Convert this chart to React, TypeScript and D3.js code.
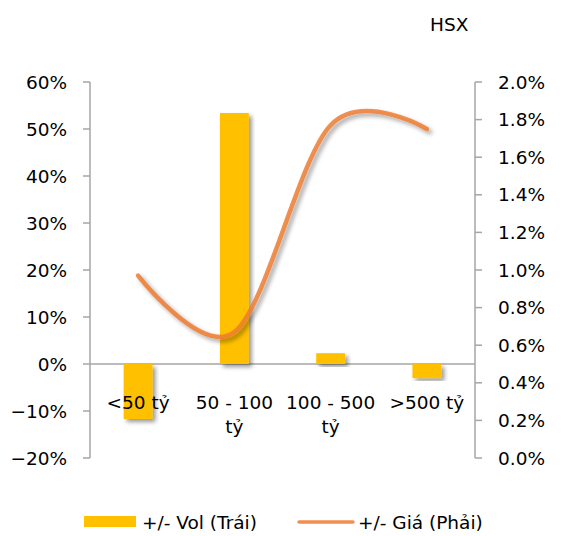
import React from "react";
import * as d3 from "d3";

const categories = ["<50 tỷ", "50 - 100 tỷ", "100 - 500 tỷ", ">500 tỷ"];
const volChange = [-0.117, 0.534, 0.023, -0.03];
const priceChange = [0.0097, 0.0067, 0.0177, 0.0175];
const leftTicks = [-0.2, -0.1, 0, 0.1, 0.2, 0.3, 0.4, 0.5, 0.6];
const rightTicks = [0, 0.002, 0.004, 0.006, 0.008, 0.01, 0.012, 0.014, 0.016, 0.018, 0.02];
const legendLabels = ["+/- Vol (Trái)", "+/- Giá (Phải)"];
const title = "HSX";

const W = 563, H = 536;
const left = 90, right = 475, top = 82, bottom = 458;
const FONT = "DejaVu Sans, Verdana, sans-serif";
const FS = 18.5;
const AXIS = "#A6A6A6";

function wrap(label: string): string[] {
  if (label.length <= 7) return [label];
  const i = label.lastIndexOf(" ");
  return [label.slice(0, i), label.slice(i + 1)];
}

export default function App() {
  const x = d3.scaleBand<string>().domain(categories).range([left, right]);
  const yL = d3.scaleLinear().domain([-0.2, 0.6]).range([bottom, top]);
  const yR = d3.scaleLinear().domain([0, 0.02]).range([bottom, top]);
  const barW = x.bandwidth() * 0.3;
  const line = d3
    .line<number>()
    .x((_, i) => x(categories[i])! + x.bandwidth() / 2)
    .y((d) => yR(d))
    .curve(d3.curveCardinal.tension(0));
  const fmtL = d3.format(".0%");
  const fmtR = d3.format(".1%");

  return (
    <svg width={W} height={H} style={{ position: "absolute", left: 0, top: 0 }} fontFamily={FONT} fontSize={FS}>
      <defs>
        <filter id="sh" x="-20%" y="-20%" width="140%" height="140%">
          <feDropShadow dx="3" dy="3" stdDeviation="2" floodColor="#000" floodOpacity="0.4" />
        </filter>
      </defs>
      <rect width={W} height={H} fill="#fff" />
      <text x={430} y={31} fill="#000">{title}</text>

      {/* left axis */}
      <line x1={left} x2={left} y1={top} y2={bottom} stroke={AXIS} strokeWidth={1.5} />
      {leftTicks.map((t) => (
        <g key={"l" + t}>
          <line x1={left - 7} x2={left} y1={yL(t)} y2={yL(t)} stroke={AXIS} strokeWidth={1.5} />
          <text x={67} y={yL(t)} dy="0.36em" textAnchor="end" fill="#000">{fmtL(t)}</text>
        </g>
      ))}
      {/* right axis */}
      <line x1={right} x2={right} y1={top} y2={bottom} stroke={AXIS} strokeWidth={1.5} />
      {rightTicks.map((t) => (
        <g key={"r" + t}>
          <line x1={right} x2={right + 7} y1={yR(t)} y2={yR(t)} stroke={AXIS} strokeWidth={1.5} />
          <text x={498} y={yR(t)} dy="0.36em" textAnchor="start" fill="#000">{fmtR(t)}</text>
        </g>
      ))}
      {/* zero line */}
      <line x1={left} x2={right} y1={yL(0)} y2={yL(0)} stroke={AXIS} strokeWidth={1.5} />

      {/* bars */}
      {categories.map((c, i) => {
        const v = volChange[i];
        const y0 = yL(Math.max(0, v));
        const y1 = yL(Math.min(0, v));
        return (
          <rect key={c} x={x(c)! + x.bandwidth() / 2 - barW / 2} y={y0} width={barW} height={y1 - y0}
            fill="#FFC000" filter="url(#sh)" />
        );
      })}

      {/* category labels */}
      {categories.map((c) => {
        const lines = wrap(c);
        return (
          <text key={"t" + c} x={x(c)! + x.bandwidth() / 2} y={409} textAnchor="middle" fill="#000">
            {lines.map((l, j) => (
              <tspan key={j} x={x(c)! + x.bandwidth() / 2} dy={j === 0 ? 0 : 24}>{l}</tspan>
            ))}
          </text>
        );
      })}

      {/* line */}
      <path d={line(priceChange)!} fill="none" stroke="#ED7D31" strokeOpacity={0.85} strokeWidth={4.5}
        strokeLinecap="round" filter="url(#sh)" />

      {/* legend */}
      <rect x={84} y={516} width={52} height={11} fill="#FFC000" />
      <text x={142} y={529} fill="#000">{legendLabels[0]}</text>
      <line x1={299} x2={353} y1={522} y2={522} stroke="#ED7D31" strokeOpacity={0.85} strokeWidth={3.5} strokeLinecap="round" />
      <text x={358} y={529} fill="#000">{legendLabels[1]}</text>
    </svg>
  );
}
